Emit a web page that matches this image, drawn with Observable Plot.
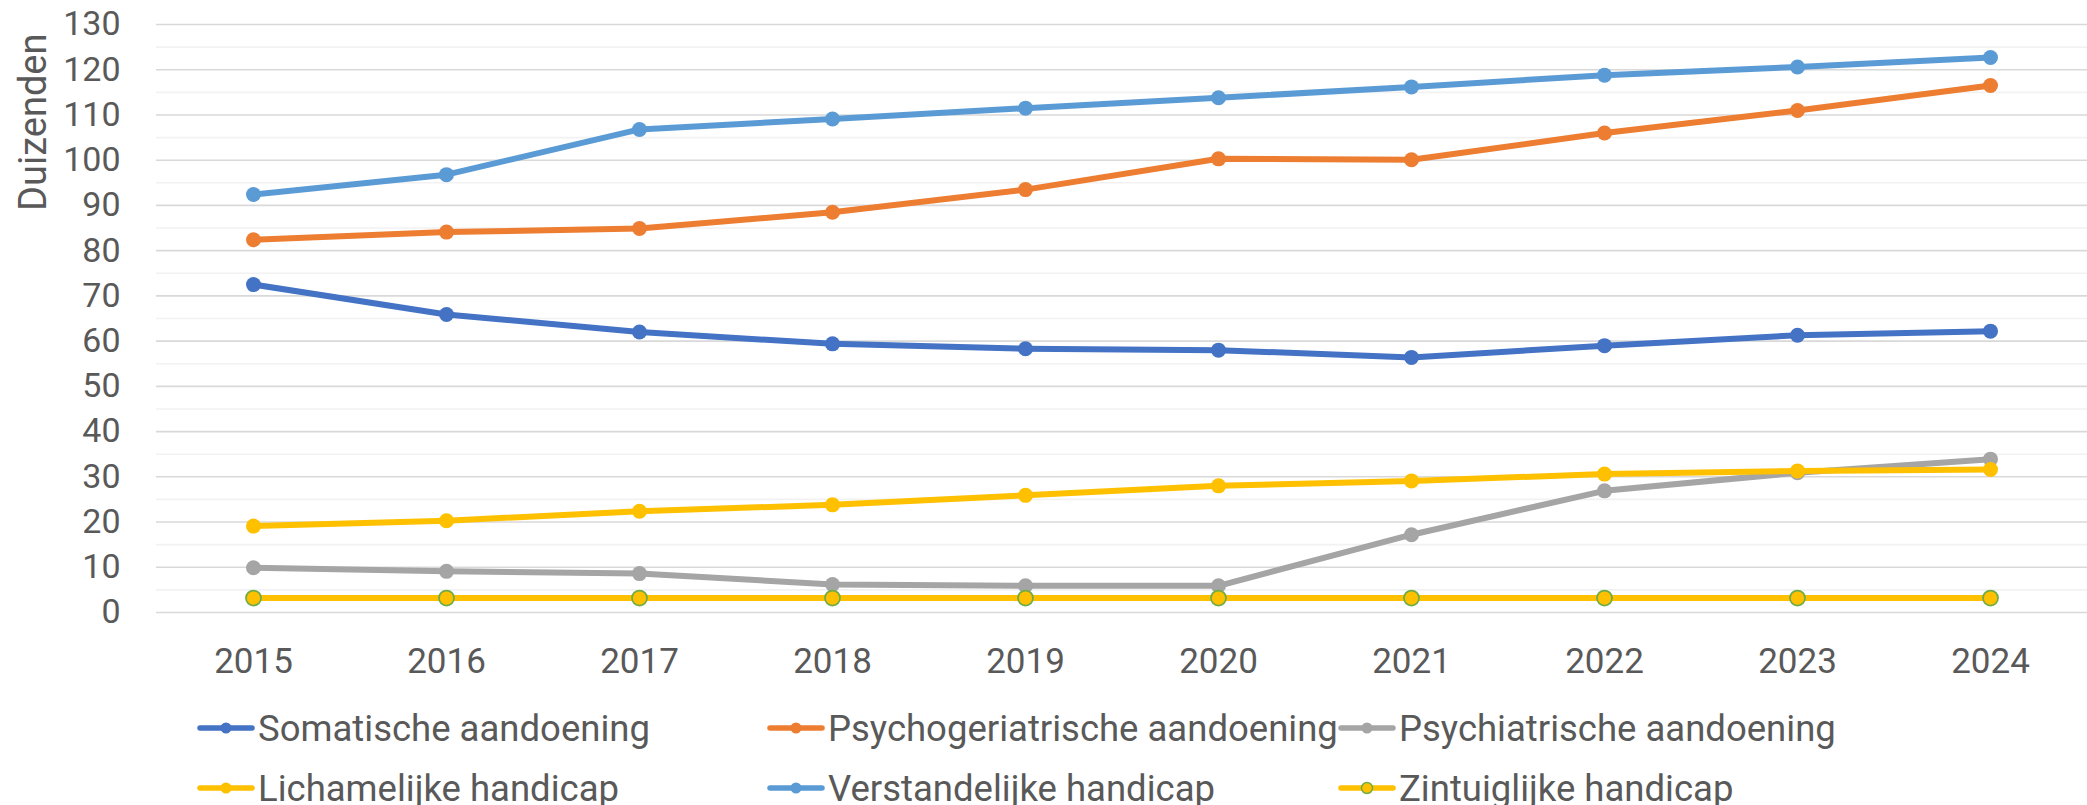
<!DOCTYPE html>
<html>
<head>
<meta charset="utf-8">
<script src="https://cdn.jsdelivr.net/npm/d3@7"></script>
<script src="https://cdn.jsdelivr.net/npm/@observablehq/plot@0.6"></script>
<style>
  html, body { margin: 0; padding: 0; background: #fff; }
  body { width: 2087px; height: 805px; overflow: hidden; font-family: Roboto, "Liberation Sans", sans-serif; color: #595959; }
  #chart svg { display: block; }
  #legend { position: absolute; left: 0; top: 698px; width: 2087px; }
  .row { position: relative; height: 60px; }
  .item { position: absolute; top: 0; height: 60px; display: flex; align-items: center; font-size: 36.5px; white-space: nowrap; }
  .item svg { display: block; margin-right: 3px; }
</style>
</head>
<body>
<div id="chart"></div>
<div id="legend"></div>
<script>
const years = ["2015","2016","2017","2018","2019","2020","2021","2022","2023","2024"];
const seriesNames = [
  "Somatische aandoening",
  "Psychogeriatrische aandoening",
  "Psychiatrische aandoening",
  "Lichamelijke handicap",
  "Verstandelijke handicap",
  "Zintuiglijke handicap"
];
const somatische          = [72.5, 65.9, 62.0, 59.4, 58.3, 58.0, 56.4, 59.0, 61.3, 62.2];
const psychogeriatrische  = [82.4, 84.1, 84.9, 88.5, 93.5, 100.3, 100.1, 106.0, 111.0, 116.5];
const psychiatrische      = [9.9, 9.1, 8.6, 6.2, 5.9, 5.9, 17.2, 26.9, 30.9, 33.9];
const lichamelijke        = [19.1, 20.3, 22.4, 23.8, 25.9, 28.0, 29.1, 30.6, 31.3, 31.6];
const verstandelijke      = [92.4, 96.8, 106.8, 109.1, 111.5, 113.8, 116.2, 118.8, 120.6, 122.7];
const zintuiglijke        = [3.2, 3.2, 3.2, 3.2, 3.2, 3.2, 3.2, 3.2, 3.2, 3.2];
const majorTicks = [0, 10, 20, 30, 40, 50, 60, 70, 80, 90, 100, 110, 120, 130];
const minorTicks = [5, 15, 25, 35, 45, 55, 65, 75, 85, 95, 105, 115, 125];
const yLabel = "Duizenden";

const seriesValues = [somatische, psychogeriatrische, psychiatrische, lichamelijke, verstandelijke, zintuiglijke];
const lineColors = ["#4472C4", "#ED7D31", "#A5A5A5", "#FFC000", "#5B9BD5", "#FFC000"];
const markerStroke = ["none", "none", "none", "none", "none", "#70AD47"];

const data = [];
seriesNames.forEach((s, i) => years.forEach((y, j) => data.push({series: s, year: y, value: seriesValues[i][j]})));

const marks = [
  Plot.ruleY(minorTicks, {stroke: "#F2F2F2", strokeWidth: 1.6}),
  Plot.ruleY(majorTicks, {stroke: "#D9D9D9", strokeWidth: 1.6}),
  Plot.axisY({ticks: majorTicks, tickSize: 0, tickPadding: 36, label: null, fontSize: 34}),
  Plot.axisX({tickSize: 0, tickPadding: 36, label: null, fontSize: 35}),
  Plot.text([yLabel], {frameAnchor: "top-left", rotate: -90, textAnchor: "end", lineAnchor: "bottom", dx: -111, dy: 9, fontSize: 38, fill: "#595959"})
];
seriesNames.forEach((s, i) => {
  const d = data.filter(r => r.series === s);
  marks.push(Plot.line(d, {x: "year", y: "value", stroke: lineColors[i], strokeWidth: 6, strokeLinejoin: "round", strokeLinecap: "round"}));
  marks.push(Plot.dot(d, {x: "year", y: "value", r: 7.5, fill: lineColors[i], stroke: markerStroke[i], strokeWidth: 1.8}));
});

const chart = Plot.plot({
  width: 2087,
  height: 690,
  marginTop: 24,
  marginBottom: 78,
  marginLeft: 156,
  marginRight: 0,
  style: {fontFamily: "Roboto, 'Liberation Sans', sans-serif", color: "#595959", background: "#fff", overflow: "visible"},
  x: {type: "point", domain: years, padding: 0.5},
  y: {domain: [0, 130]},
  marks
});
document.getElementById("chart").appendChild(chart);

// Legend
const legendLayout = [[0, 1, 2], [3, 4, 5]];
const colX = [197, 767, 1338];
const legend = document.getElementById("legend");
legendLayout.forEach(row => {
  const rowDiv = document.createElement("div");
  rowDiv.className = "row";
  row.forEach((i, c) => {
    const item = document.createElement("div");
    item.className = "item";
    item.style.left = colX[c] + "px";
    const sw = d3.create("svg").attr("width", 58).attr("height", 20);
    sw.append("line").attr("x1", 3).attr("x2", 55).attr("y1", 10).attr("y2", 10)
      .attr("stroke", lineColors[i]).attr("stroke-width", 5.5).attr("stroke-linecap", "round");
    sw.append("circle").attr("cx", 29).attr("cy", 10).attr("r", 5.5)
      .attr("fill", lineColors[i]).attr("stroke", markerStroke[i]).attr("stroke-width", 1.5);
    item.appendChild(sw.node());
    const t = document.createElement("span");
    t.textContent = seriesNames[i];
    item.appendChild(t);
    rowDiv.appendChild(item);
  });
  legend.appendChild(rowDiv);
});
</script>
</body>
</html>
